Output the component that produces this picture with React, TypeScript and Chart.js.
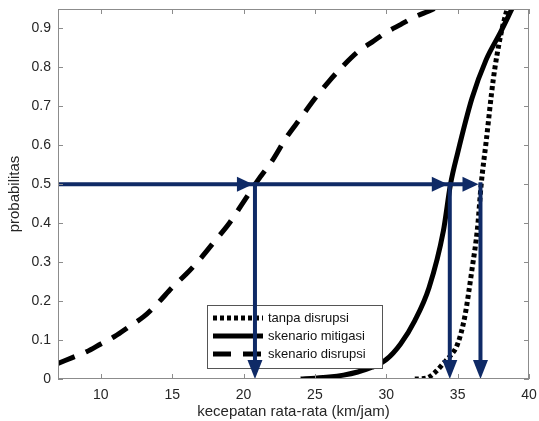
import React, { useEffect, useRef } from "react";
import { Chart, registerables } from "chart.js";

Chart.register(...registerables);

// skenario disrupsi (dashed)
const disrupsiX = [7, 8, 9, 10, 11, 12, 13, 14, 15, 16, 17, 18, 19, 20, 21, 22, 23, 24, 25, 26, 27, 28, 29, 30, 31, 32, 33, 33.6];
const disrupsiY = [0.04, 0.055, 0.07, 0.09, 0.11, 0.135, 0.16, 0.195, 0.235, 0.27, 0.31, 0.355, 0.4, 0.455, 0.51, 0.56, 0.62, 0.67, 0.72, 0.765, 0.805, 0.84, 0.865, 0.89, 0.91, 0.93, 0.945, 0.955];

// skenario mitigasi (solid)
const mitigasiX = [24, 25, 26, 27, 28, 29, 30, 31, 32, 33, 34, 34.5, 35, 36, 37, 38, 38.8];
const mitigasiY = [0, 0.002, 0.005, 0.01, 0.018, 0.03, 0.05, 0.09, 0.15, 0.235, 0.38, 0.5, 0.58, 0.72, 0.82, 0.89, 0.95];

// tanpa disrupsi (dotted)
const tanpaX = [32, 32.8, 33.5, 34, 34.5, 35, 35.5, 36, 36.4, 36.65, 37, 37.5, 38, 38.5];
const tanpaY = [0, 0.002, 0.02, 0.04, 0.06, 0.09, 0.16, 0.28, 0.39, 0.5, 0.61, 0.77, 0.88, 0.955];

// arrows at probability 0.5
const crossX = [20.8, 34.45, 36.6];
const crossY = 0.5;

const legendLabels = ["tanpa disrupsi", "skenario mitigasi", "skenario disrupsi"];

const xMin = 7, xMax = 40, xStep = 5;
const yMin = 0, yMax = 0.95, yStep = 0.1;

const FONT = "'Liberation Sans', Arial, Helvetica, sans-serif";
const NAVY = "#0f2a66";
const FRAME = "#8c8c8c";

const toPts = (xs: number[], ys: number[]) => xs.map((x, i) => ({ x, y: ys[i] }));

const dashes: number[][] = [[4, 3], [], [18, 12]];

export default function App() {
  const ref = useRef<HTMLCanvasElement | null>(null);
  useEffect(() => {
    const canvas = ref.current!;
    const framePlugin = {
      id: "frame",
      afterDraw(chart: any) {
        const { ctx, chartArea: a, scales } = chart;
        ctx.save();
        ctx.strokeStyle = FRAME;
        ctx.lineWidth = 1;
        ctx.strokeRect(a.left + 0.5, a.top + 0.5, a.right - a.left - 1, a.bottom - a.top - 1);
        const tl = 5;
        ctx.beginPath();
        scales.x.ticks.forEach((t: any) => {
          const px = Math.round(scales.x.getPixelForValue(t.value)) + 0.5;
          ctx.moveTo(px, a.bottom); ctx.lineTo(px, a.bottom - tl);
          ctx.moveTo(px, a.top); ctx.lineTo(px, a.top + tl);
        });
        scales.y.ticks.forEach((t: any) => {
          const py = Math.round(scales.y.getPixelForValue(t.value)) + 0.5;
          ctx.moveTo(a.left, py); ctx.lineTo(a.left + tl, py);
          ctx.moveTo(a.right, py); ctx.lineTo(a.right - tl, py);
        });
        ctx.stroke();
        ctx.restore();
      },
    };
    const legendPlugin = {
      id: "boxLegend",
      afterDatasetsDraw(chart: any) {
        const { ctx, chartArea: a } = chart;
        const bx = a.left + 149, by = 305, bw = 175, bh = 63;
        ctx.save();
        ctx.fillStyle = "#ffffff";
        ctx.fillRect(bx, by, bw, bh);
        ctx.strokeStyle = "#555";
        ctx.lineWidth = 1;
        ctx.strokeRect(bx + 0.5, by + 0.5, bw, bh);
        ctx.font = `13px ${FONT}`;
        ctx.textBaseline = "middle";
        legendLabels.forEach((lab, i) => {
          const cy = by + 13 + i * 18;
          ctx.strokeStyle = "#000";
          ctx.lineWidth = 5;
          ctx.setLineDash(dashes[i]);
          ctx.beginPath();
          ctx.moveTo(bx + 6, cy);
          ctx.lineTo(bx + 56, cy);
          ctx.stroke();
          ctx.setLineDash([]);
          ctx.fillStyle = "#111";
          ctx.fillText(lab, bx + 61, cy);
        });
        ctx.restore();
      },
    };
    const arrowPlugin = {
      id: "arrows",
      afterDatasetsDraw(chart: any) {
        const { ctx, scales } = chart;
        const X = scales.x, Y = scales.y;
        const y5 = Y.getPixelForValue(crossY);
        const y0 = Y.getPixelForValue(0);
        const hl = 16, hw = 7.5;
        ctx.save();
        ctx.strokeStyle = NAVY;
        ctx.fillStyle = NAVY;
        ctx.lineWidth = 4;
        ctx.lineCap = "butt";
        const lastX = X.getPixelForValue(crossX[crossX.length - 1]);
        ctx.beginPath();
        ctx.moveTo(X.getPixelForValue(xMin), y5);
        ctx.lineTo(lastX - hl, y5);
        ctx.stroke();
        crossX.forEach((cx) => {
          const px = X.getPixelForValue(cx);
          ctx.beginPath();
          ctx.moveTo(px - 2, y5);
          ctx.lineTo(px - 2 - hl, y5 - hw);
          ctx.lineTo(px - 2 - hl, y5 + hw);
          ctx.closePath();
          ctx.fill();
          ctx.beginPath();
          ctx.moveTo(px, y5 - 2);
          ctx.lineTo(px, y0 - hl);
          ctx.stroke();
          ctx.beginPath();
          ctx.moveTo(px, y0);
          ctx.lineTo(px - hw, y0 - hl - 3);
          ctx.lineTo(px + hw, y0 - hl - 3);
          ctx.closePath();
          ctx.fill();
        });
        ctx.restore();
      },
    };
    const mk = (xs: number[], ys: number[], dash: number[]) => ({
      data: toPts(xs, ys),
      borderColor: "#000",
      borderWidth: 5,
      borderDash: dash,
      pointRadius: 0,
      fill: false,
      cubicInterpolationMode: "monotone" as const,
    });
    const chart = new Chart(canvas, {
      type: "line",
      data: {
        datasets: [
          { label: legendLabels[0], ...mk(tanpaX, tanpaY, dashes[0]) },
          { label: legendLabels[1], ...mk(mitigasiX, mitigasiY, dashes[1]) },
          { label: legendLabels[2], ...mk(disrupsiX, disrupsiY, dashes[2]) },
        ],
      },
      options: {
        animation: false,
        responsive: false,
        layout: { padding: { top: 9, right: 10, left: 0, bottom: 0 } },
        plugins: { legend: { display: false }, tooltip: { enabled: false } },
        scales: {
          x: {
            type: "linear",
            min: xMin,
            max: xMax,
            grid: { display: false, drawTicks: false },
            border: { display: false },
            ticks: { stepSize: xStep, includeBounds: false, padding: 8, color: "#262626", font: { family: FONT, size: 14 }, maxRotation: 0 },
            title: { display: true, text: "kecepatan rata-rata (km/jam)", color: "#262626", font: { family: FONT, size: 15 }, padding: { top: 0, bottom: 0 } },
            afterFit: (s: any) => { s.height = 42; s.paddingLeft = 0; s.paddingRight = 0; },
          },
          y: {
            type: "linear",
            min: yMin,
            max: yMax,
            grid: { display: false, drawTicks: false },
            border: { display: false },
            ticks: { stepSize: yStep, includeBounds: false, padding: 7, color: "#262626", font: { family: FONT, size: 14 } },
            title: { display: true, text: "probabilitas", color: "#262626", font: { family: FONT, size: 15 }, padding: { top: 6, bottom: 0 } },
            afterFit: (s: any) => { s.width = 58; s.paddingTop = 0; s.paddingBottom = 0; },
          },
        },
      },
      plugins: [framePlugin, legendPlugin, arrowPlugin],
    });
    return () => chart.destroy();
  }, []);
  return (
    <div style={{ position: "fixed", left: 0, top: 0, width: 539, height: 421, background: "#fff" }}>
      <canvas ref={ref} width={539} height={421} style={{ display: "block" }} />
    </div>
  );
}
